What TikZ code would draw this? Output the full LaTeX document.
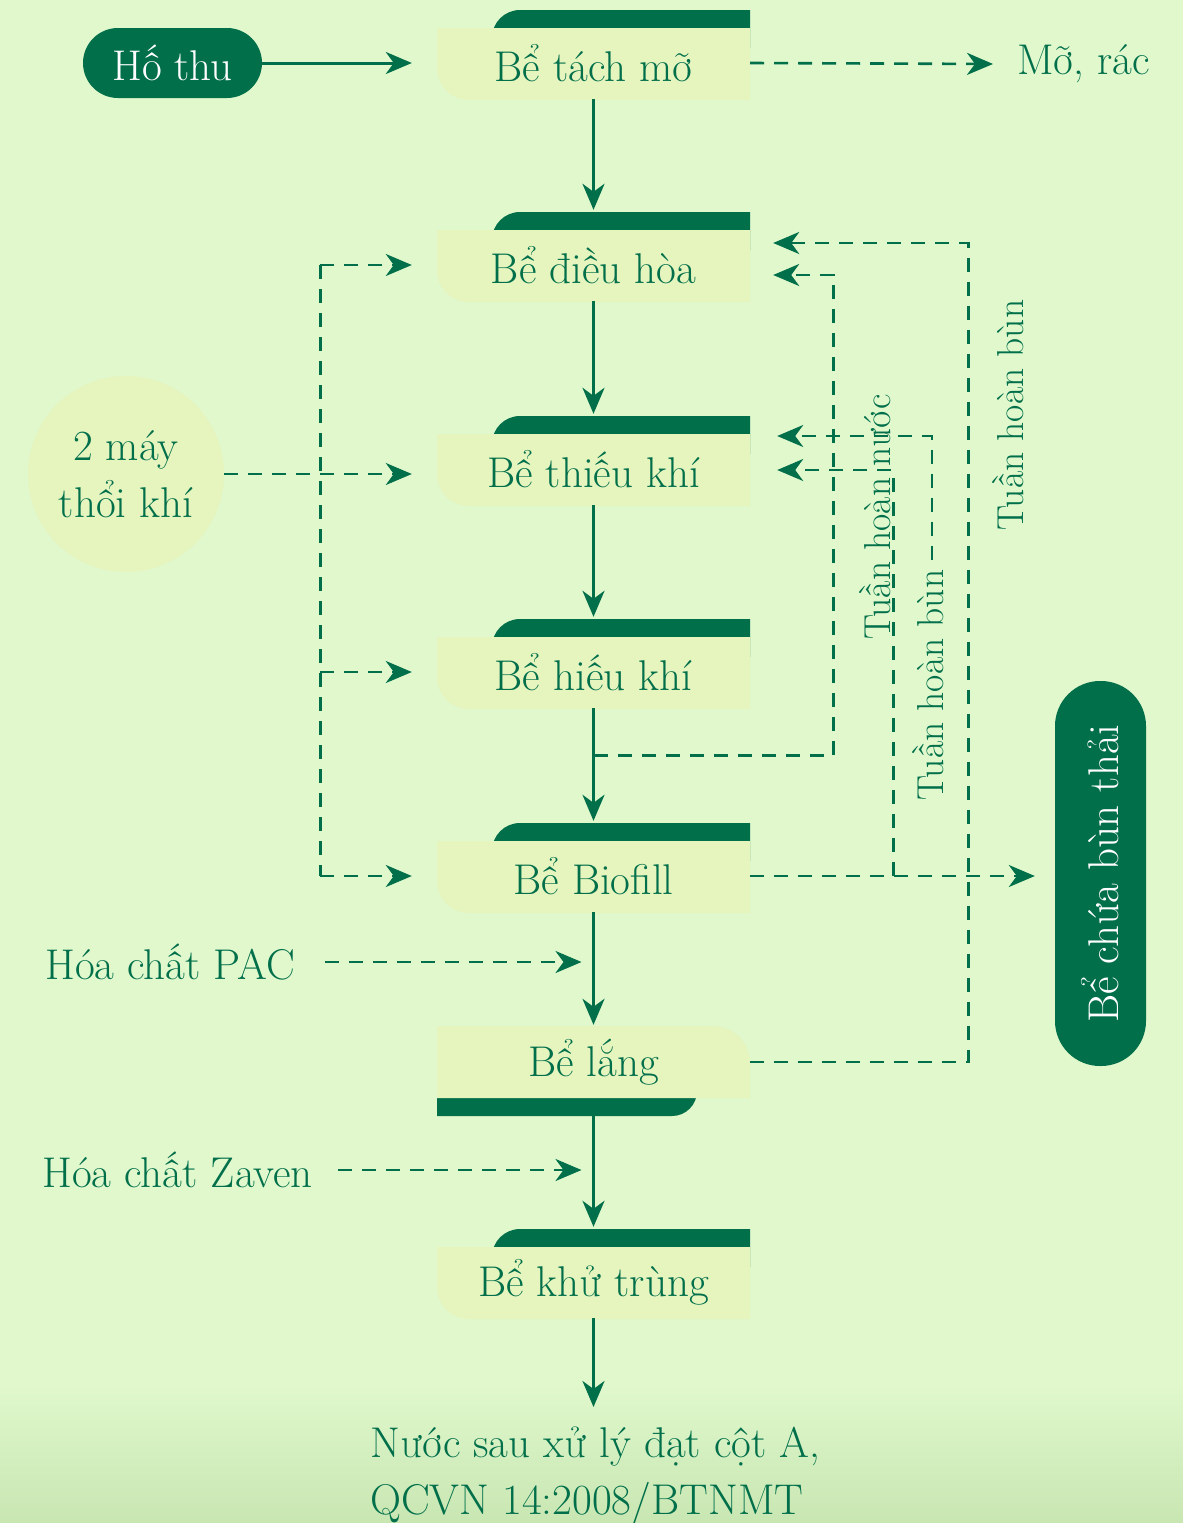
\documentclass[tikz,border=0pt]{standalone}
\usetikzlibrary{arrows.meta,calc}
\definecolor{bggreen}{HTML}{E0F8CC}
\definecolor{bgdark}{HTML}{C8E6B2}
\definecolor{lbox}{HTML}{E6F4BE}
\definecolor{dgreen}{HTML}{006F4A}
\newcommand\bigtext{\fontsize{43}{57}\selectfont}
\newcommand\smalltext{\fontsize{37.5}{42}\selectfont}
\tikzset{
  >={Stealth[length=26pt,width=22pt,inset=8pt]},
  every node/.style={inner sep=0pt, text=dgreen, font=\bigtext},
  flow/.style={draw=dgreen, line width=3pt, ->},
  air/.style={draw=dgreen, line width=2.6pt, dash pattern=on 14pt off 10pt, ->},
  tank/.style={minimum width=313pt, minimum height=72pt},
  pill/.style={fill=dgreen, text=white},
  lbl/.style={rotate=90, font=\smalltext},
}
\begin{document}
\begin{tikzpicture}[x=1pt,y=-1pt]
\useasboundingbox (0,0) rectangle (1183,1523);
\fill[bggreen] (0,0) rectangle (1183,1523);
\shade[top color=bggreen, bottom color=bgdark] (0,1385) rectangle (1183,1523);

% tanks with band on top
\foreach \n/\yt/\t in {tach/28/Bể tách mỡ, dieuhoa/230/Bể điều hòa, thieukhi/434/Bể thiếu khí,
    hieukhi/637/Bể hiếu khí, biofill/841/Bể Biofill, khutrung/1247/Bể khử trùng}{
  \fill[dgreen] (492,\yt+20) -- (492,\yt+10) arc[start angle=180, end angle=90, radius=28pt]
    -- (750,\yt-18) -- (750,\yt+20) -- cycle;
  \fill[lbox] (437,\yt) -- (750,\yt) -- (750,\yt+72) -- (469,\yt+72)
    arc[start angle=270, end angle=180, radius=32pt] -- cycle;
  \node[tank] (\n) at (593.5,\yt+35) {\t};
}
% settling tank, band below
\fill[dgreen] (437,1080) -- (437,1116) -- (672,1116) arc[start angle=270, end angle=360, radius=25pt]
  -- (697,1080) -- cycle;
\fill[lbox] (437,1026) -- (713,1026) arc[start angle=90, end angle=0, radius=37pt]
  -- (750,1098) -- (437,1098) -- cycle;
\node[tank] (lang) at (593.5,1062) {Bể lắng};

\node[pill, rounded corners=35pt, minimum width=179pt, minimum height=70pt] (hothu) at (172.5,63) {Hố thu};
\node[pill, rounded corners=45pt, minimum width=91pt, minimum height=385pt] (bunthai) at (1100.5,873.5)
  {\rotatebox{90}{Bể chứa bùn thải}};
\node[circle, fill=lbox, minimum size=196pt, align=center] (maythoi) at (126,474) {2 máy\\thổi khí};
\node[anchor=west, inner xsep=24pt] (morac) at (993,64) {Mỡ, rác};
\node[anchor=east, inner xsep=30pt] (pac) at (325,962) {Hóa chất PAC};
\node[anchor=east, inner xsep=25pt] (zaven) at (338,1170) {Hóa chất Zaven};
\node[anchor=north west, inner ysep=20pt, align=left] (ketqua) at (370,1407)
  {Nước sau xử lý đạt cột A,\\QCVN 14:2008/BTNMT};
\node[lbl] (hoannuoc) at (875,517) {Tuần hoàn nước};
\node[lbl] (hoanbun) at (928,685) {Tuần hoàn bùn};
\node[lbl] (hoanbun2) at (1008,415) {Tuần hoàn bùn};

% main line
\draw[flow] (hothu.east) -- ([xshift=-25pt]tach.west);
\foreach \a/\b in {tach/dieuhoa, dieuhoa/thieukhi, thieukhi/hieukhi, hieukhi/biofill}
  \draw[flow] (\a.south) -- ([yshift=19pt]\b.north);
\draw[flow] (biofill.south) -- ([yshift=1pt]lang.north);
\draw[flow] ([yshift=-18pt]lang.south) -- ([yshift=19pt]khutrung.north);
\draw[flow] (khutrung.south) -- (khutrung.south |- ketqua.north);

% air
\coordinate (bus) at ($(maythoi.east)+(96pt,0pt)$);
\draw[air,-] (bus |- dieuhoa.west) -- (bus |- biofill.west);
\foreach \t in {dieuhoa,hieukhi,biofill}
  \draw[air] (bus |- \t.west) -- ([xshift=-25pt]\t.west);
\draw[air] (maythoi.east) -- ($(maythoi.east -| thieukhi.west)+(-25pt,0pt)$);

% chemicals, waste
\draw[air] (tach.east) -- (morac.west);
\draw[air] (pac.east) -- ($(pac.east -| lang.north)+(-12pt,0pt)$);
\draw[air] (zaven.east) -- ($(zaven.east -| lang.north)+(-12pt,0pt)$);
\draw[air] (biofill.east) -- ($(biofill.east -| bunthai.west)+(-20pt,0pt)$);

% recirculation
\coordinate (tap) at ($(hieukhi.south)+(0pt,-47pt)$);
\draw[air] (tap) -- ++(240pt,0pt) |- ([xshift=23pt,yshift=-10pt]dieuhoa.east);
\draw[air] ($(biofill.east)+(143pt,0pt)$) |- ([xshift=27pt,yshift=-1pt]thieukhi.east);
\draw[air] ($(hoanbun.east)+(4pt,10pt)$) |- ([xshift=27pt,yshift=33pt]thieukhi.east);
\draw[air] (lang.east) -- ++(218pt,0pt) |- ([xshift=23pt,yshift=22pt]dieuhoa.east);
\end{tikzpicture}
\end{document}
